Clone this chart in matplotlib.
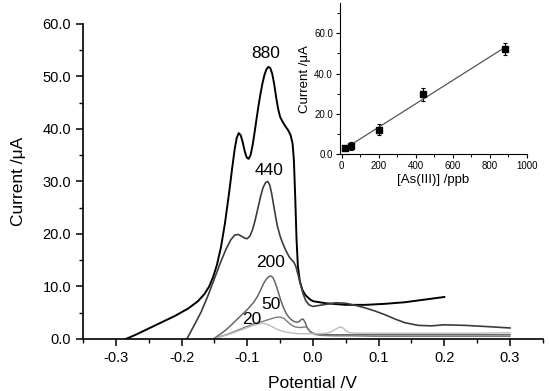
import matplotlib
matplotlib.use("Agg")
import matplotlib.pyplot as plt
import numpy as np
from matplotlib.ticker import MultipleLocator, FormatStrFormatter

plt.rcParams['font.family'] = ['Liberation Sans', 'DejaVu Sans']
plt.rcParams['axes.unicode_minus'] = False

# ---- main voltammograms ----
x880 = [-0.285,-0.27,-0.25,-0.23,-0.21,-0.19,-0.175,-0.165,-0.158,-0.152,-0.146,-0.140,-0.134,-0.128,-0.123,-0.119,-0.116,-0.113,-0.110,-0.107,-0.104,-0.101,-0.098,-0.095,-0.092,-0.089,-0.086,-0.083,-0.080,-0.077,-0.074,-0.071,-0.068,-0.065,-0.062,-0.059,-0.056,-0.053,-0.050,-0.046,-0.042,-0.038,-0.034,-0.031,-0.029,-0.027,-0.025,-0.023,-0.020,-0.016,-0.011,-0.005,0.0,0.02,0.05,0.08,0.11,0.14,0.17,0.20]
y880 = [0,0.8,2.0,3.2,4.4,5.8,7.2,8.6,10.0,11.8,14.2,17.5,22,27.5,32.5,36.3,38.3,39.2,38.8,37.5,35.8,34.6,34.3,35.0,36.8,39.2,41.8,44.3,46.6,48.6,50.2,51.3,51.8,51.6,50.5,48.5,46.0,43.8,42.3,41.3,40.5,39.8,38.8,37.2,34,27,19,14,11.0,9.3,8.3,7.6,7.2,6.8,6.5,6.5,6.7,7.0,7.5,8.0]

x440 = [-0.192,-0.18,-0.17,-0.16,-0.15,-0.14,-0.132,-0.125,-0.119,-0.114,-0.109,-0.104,-0.100,-0.096,-0.092,-0.088,-0.084,-0.080,-0.076,-0.072,-0.069,-0.066,-0.063,-0.060,-0.057,-0.054,-0.050,-0.046,-0.041,-0.036,-0.032,-0.029,-0.026,-0.023,-0.019,-0.015,-0.011,-0.006,0.0,0.01,0.02,0.035,0.05,0.065,0.08,0.095,0.11,0.125,0.14,0.16,0.18,0.20,0.23,0.26,0.30]
y440 = [0,2.8,5.2,8.2,11.5,14.8,17.2,18.9,19.8,19.9,19.6,19.2,19.1,19.6,20.8,22.6,24.8,27.0,28.8,29.8,30.0,29.4,27.8,25.6,23.4,21.4,19.6,18.2,16.8,15.6,15.0,14.6,13.8,12.4,10.5,8.6,7.3,6.5,6.2,6.4,6.6,6.9,6.8,6.4,5.9,5.3,4.6,3.8,3.1,2.6,2.5,2.7,2.6,2.4,2.1]

x200 = [-0.152,-0.14,-0.13,-0.12,-0.11,-0.10,-0.09,-0.084,-0.079,-0.075,-0.071,-0.067,-0.064,-0.061,-0.058,-0.055,-0.052,-0.049,-0.045,-0.040,-0.035,-0.030,-0.025,-0.021,-0.018,-0.015,-0.012,-0.009,-0.005,0.0,0.01,0.03,0.06,0.1,0.15,0.2,0.25,0.3]
y200 = [0,1.0,2.0,3.2,4.4,5.6,7.0,8.2,9.5,10.6,11.4,11.9,12.0,11.7,10.9,9.8,8.6,7.4,6.0,4.7,3.9,3.4,3.2,3.3,3.7,3.8,3.2,2.2,1.5,1.1,0.9,0.8,0.8,0.8,0.8,0.8,0.8,0.8]

x50 = [-0.152,-0.13,-0.11,-0.09,-0.075,-0.065,-0.057,-0.050,-0.044,-0.038,-0.032,-0.027,-0.022,-0.017,-0.013,-0.009,-0.006,-0.003,0.002,0.01,0.03,0.06,0.1,0.15,0.2,0.25,0.3]
y50 = [0,0.9,1.9,2.9,3.4,3.8,4.1,4.2,3.9,3.2,2.6,2.3,2.2,2.2,2.3,2.2,1.7,1.2,0.9,0.7,0.6,0.6,0.5,0.5,0.5,0.5,0.5]

x20 = [-0.152,-0.13,-0.11,-0.095,-0.085,-0.078,-0.072,-0.066,-0.060,-0.054,-0.047,-0.040,-0.030,-0.020,-0.010,0.0,0.01,0.02,0.028,0.035,0.041,0.046,0.050,0.055,0.065,0.08,0.1,0.15,0.2,0.25,0.3]
y20 = [0,0.8,1.7,2.4,2.8,3.0,2.9,2.6,2.2,1.8,1.5,1.3,1.1,1.0,1.0,1.0,1.0,1.1,1.4,1.9,2.3,2.1,1.6,1.2,1.1,1.1,1.1,1.1,1.1,1.1,1.2]

curve_labels = ["880", "440", "200", "50", "20"]
label_x = [-0.072, -0.067, -0.064, -0.064, -0.093]
label_y = [54.3, 32.0, 14.5, 6.5, 3.8]

# ---- inset calibration ----
conc = [20, 50, 200, 440, 880]
peak_current = [3.0, 4.2, 12.2, 29.8, 52.0]
peak_err = [1.2, 2.0, 2.5, 3.2, 3.0]

fig = plt.figure(figsize=(5.5, 3.91), dpi=100)
ax = fig.add_axes([0.151, 0.133, 0.836, 0.806])

ax.plot(x880, y880, color='black', lw=1.4)
ax.plot(x440, y440, color='#3c3c3c', lw=1.2)
ax.plot(x200, y200, color='#666666', lw=1.1)
ax.plot(x50, y50, color='#7c7c7c', lw=1.0)
ax.plot(x20, y20, color='#bcbcbc', lw=1.0)

for t, lx, ly in zip(curve_labels, label_x, label_y):
    ax.text(lx, ly, t, ha='center', va='center', fontsize=12.5)

ax.set_xlim(-0.35, 0.35)
ax.set_ylim(0, 60)
ax.spines['top'].set_visible(False)
ax.spines['right'].set_visible(False)
for s in ('left', 'bottom'):
    ax.spines[s].set_linewidth(1.2)
ax.xaxis.set_major_locator(MultipleLocator(0.1))
ax.xaxis.set_minor_locator(MultipleLocator(0.05))
ax.yaxis.set_major_locator(MultipleLocator(10))
ax.yaxis.set_minor_locator(MultipleLocator(5))
ax.xaxis.set_major_formatter(FormatStrFormatter('%.1f'))
ax.yaxis.set_major_formatter(FormatStrFormatter('%.1f'))
ax.tick_params(which='major', direction='out', length=5, width=1.1, labelsize=10.5)
ax.tick_params(which='minor', direction='out', length=3, width=1.0)
ax.set_xlabel('Potential /V', fontsize=12.5, labelpad=8)
ax.set_ylabel('Current /\u03bcA', fontsize=12.5, labelpad=12)

# inset
ins = fig.add_axes([0.618, 0.606, 0.340, 0.386])
ins.errorbar(conc, peak_current, yerr=peak_err, fmt='s', color='black',
             ms=4, capsize=1.5, elinewidth=0.8, capthick=0.8)
coef = np.polyfit(conc, peak_current, 1)
xf = np.array([min(conc), max(conc)])
ins.plot(xf, np.polyval(coef, xf), color='#555555', lw=0.9)
ins.set_xlim(-10, 1000)
ins.set_ylim(0, 75)
ins.spines['top'].set_visible(False)
ins.spines['right'].set_visible(False)
ins.xaxis.set_major_locator(MultipleLocator(200))
ins.xaxis.set_minor_locator(MultipleLocator(100))
ins.yaxis.set_major_locator(MultipleLocator(20))
ins.yaxis.set_minor_locator(MultipleLocator(10))
ins.yaxis.set_major_formatter(FormatStrFormatter('%.1f'))
ins.tick_params(which='major', direction='out', length=3, width=0.8, labelsize=7, pad=2)
ins.tick_params(which='minor', direction='out', length=2, width=0.7)
ins.set_xlabel('[As(III)] /ppb', fontsize=9.5, labelpad=2)
ins.set_ylabel('Current /\u03bcA', fontsize=9.5, labelpad=2)
ins.patch.set_alpha(0)

fig.savefig('out.png', dpi=100)
